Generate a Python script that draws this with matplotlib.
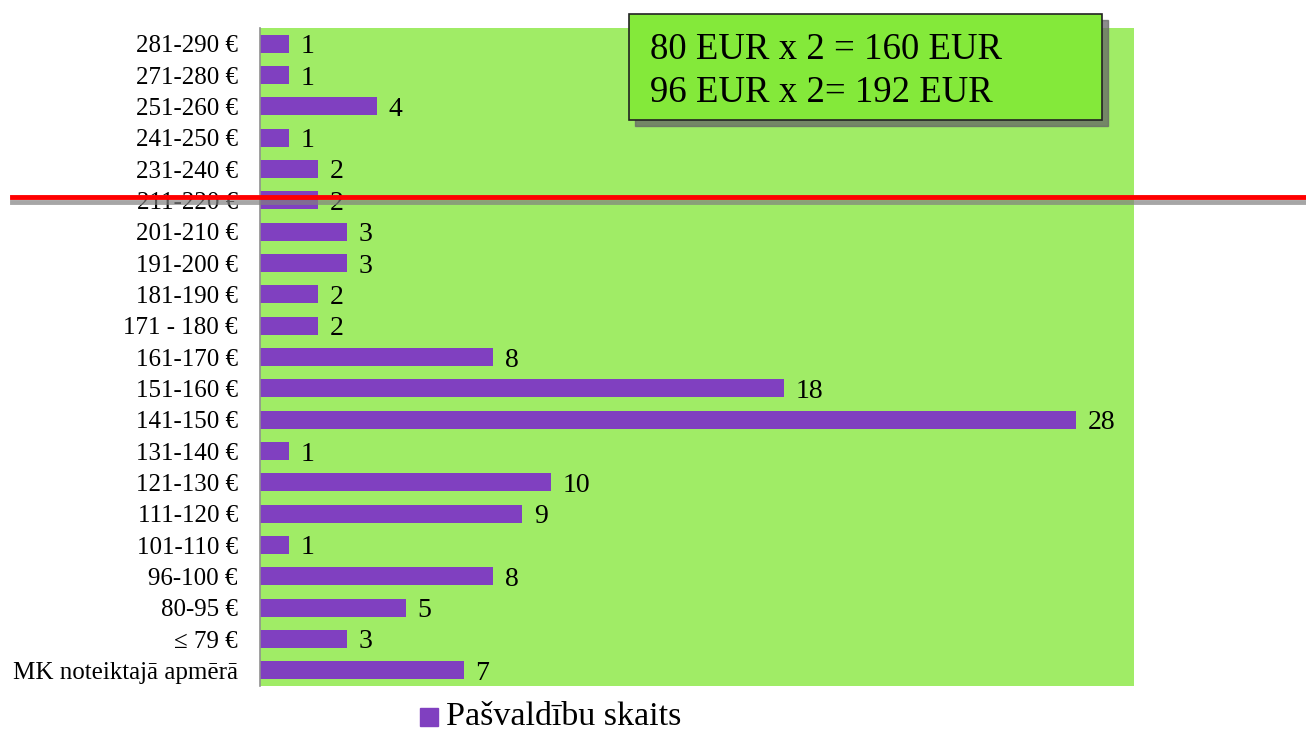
import matplotlib
matplotlib.use("Agg")
import matplotlib.pyplot as plt
from matplotlib.patches import Rectangle
from matplotlib.lines import Line2D

categories = [
    "MK noteiktajā apmērā", "≤ 79 €", "80-95 €", "96-100 €", "101-110 €",
    "111-120 €", "121-130 €", "131-140 €", "141-150 €", "151-160 €",
    "161-170 €", "171 - 180 €", "181-190 €", "191-200 €", "201-210 €",
    "211-220 €", "231-240 €", "241-250 €", "251-260 €", "271-280 €",
    "281-290 €",
]
counts = [7, 3, 5, 8, 1, 9, 10, 1, 28, 18, 8, 2, 2, 3, 3, 2, 2, 1, 4, 1, 1]
series_name = "Pašvaldību skaits"
note_lines = ["80 EUR x 2 = 160 EUR", "96 EUR x 2= 192 EUR"]

plt.rcParams["font.family"] = ["Liberation Serif", "DejaVu Serif"]

W, H = 1306, 731
fig = plt.figure(figsize=(W / 100, H / 100), dpi=100)
ax = fig.add_axes([260 / W, 1 - 686 / H, (1134 - 260) / W, (686 - 28) / H])
ax.set_facecolor("#A0EC66")

bar_color = "#8040C0"
ypos = list(range(len(categories)))
ax.barh(ypos, counts, height=0.58, color=bar_color, zorder=2)
for y, v in zip(ypos, counts):
    ax.text(v + 0.4, y, str(v), va="center_baseline", ha="left",
            fontsize=20, zorder=3)

ax.set_xlim(0, 30)
ax.set_ylim(-0.5, len(categories) - 0.5)
ax.set_yticks(ypos)
ax.set_yticklabels(categories, fontsize=18, va="center_baseline")
ax.tick_params(axis="y", length=0, pad=16)
ax.set_xticks([])
for side in ["top", "right", "bottom"]:
    ax.spines[side].set_visible(False)
ax.spines["left"].set_color("#909090")
ax.spines["left"].set_linewidth(1.2)

# legend
fig.patches.append(Rectangle((420 / W, 1 - 726 / H), 18 / W, 18 / H,
                             transform=fig.transFigure, color=bar_color))
fig.text(446 / W, 1 - 713 / H, series_name, fontsize=24.5,
         va="center_baseline", ha="left")

# note box with drop shadow
bx0, by0, bx1, by1 = 629, 14, 1102, 120
fig.patches.append(Rectangle(((bx0 + 6) / W, 1 - (by1 + 6) / H), (bx1 - bx0) / W,
                             (by1 - by0) / H, transform=fig.transFigure,
                             color="#666666", alpha=0.75, zorder=5))
fig.patches.append(Rectangle((bx0 / W, 1 - by1 / H), (bx1 - bx0) / W,
                             (by1 - by0) / H, transform=fig.transFigure,
                             facecolor="#84E93A", edgecolor="#222222",
                             linewidth=1.2, zorder=6))
fig.text(650 / W, 1 - 46 / H, note_lines[0], fontsize=26.5,
         va="center_baseline", ha="left", zorder=7)
fig.text(650 / W, 1 - 89 / H, note_lines[1], fontsize=26.5,
         va="center_baseline", ha="left", zorder=7)

# red marker line with shadow
fig.lines.append(Line2D([12 / W, 1], [1 - 202 / H, 1 - 202 / H],
                        transform=fig.transFigure, color="#808080",
                        alpha=0.7, linewidth=3.5, zorder=8))
fig.lines.append(Line2D([12 / W, 1], [1 - 197 / H, 1 - 197 / H],
                        transform=fig.transFigure, color="#FF0000",
                        linewidth=3.5, zorder=9))

fig.savefig("out.png", dpi=100, facecolor="white")
